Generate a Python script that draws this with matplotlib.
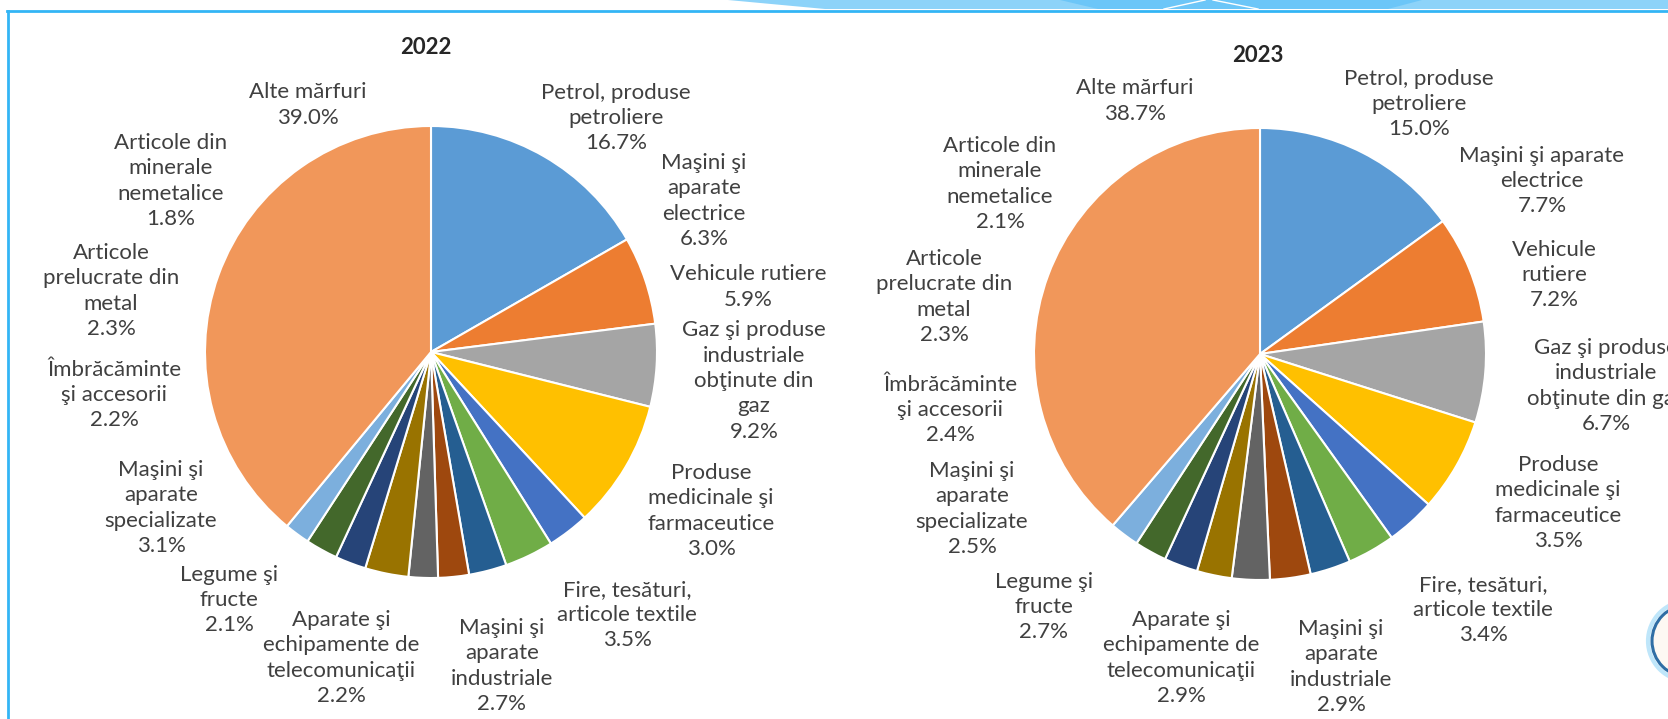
import matplotlib
matplotlib.use("Agg")
import matplotlib.pyplot as plt
from matplotlib.patches import Polygon, Circle

plt.rcParams['font.family'] = ['Lato', 'DejaVu Sans']

# --- data ---
names_2022 = ["Petrol, produse\npetroliere", "Maşini şi\naparate\nelectrice",
              "Vehicule rutiere", "Gaz şi produse\nindustriale\nobţinute din\ngaz",
              "Produse\nmedicinale şi\nfarmaceutice", "Fire, tesături,\narticole textile",
              "Maşini şi\naparate\nindustriale", "Aparate şi\nechipamente de\ntelecomunicaţii",
              "Legume şi\nfructe", "Maşini şi\naparate\nspecializate",
              "Îmbrăcăminte\nşi accesorii", "Articole\nprelucrate din\nmetal",
              "Articole din\nminerale\nnemetalice", "Alte mărfuri"]
names_2023 = ["Petrol, produse\npetroliere", "Maşini şi aparate\nelectrice",
              "Vehicule\nrutiere", "Gaz şi produse\nindustriale\nobţinute din gaz",
              "Produse\nmedicinale şi\nfarmaceutice", "Fire, tesături,\narticole textile",
              "Maşini şi\naparate\nindustriale", "Aparate şi\nechipamente de\ntelecomunicaţii",
              "Legume şi\nfructe", "Maşini şi\naparate\nspecializate",
              "Îmbrăcăminte\nşi accesorii", "Articole\nprelucrate din\nmetal",
              "Articole din\nminerale\nnemetalice", "Alte mărfuri"]
values_2022 = [16.7, 6.3, 5.9, 9.2, 3.0, 3.5, 2.7, 2.2, 2.1, 3.1, 2.2, 2.3, 1.8, 39.0]
values_2023 = [15.0, 7.7, 7.2, 6.7, 3.5, 3.4, 2.9, 2.9, 2.7, 2.5, 2.4, 2.3, 2.1, 38.7]

colors = ['#5B9BD5', '#ED7D31', '#A5A5A5', '#FFC000', '#4472C4', '#70AD47',
          '#255E91', '#9E480E', '#636363', '#997300', '#264478', '#43682B',
          '#7CAFDD', '#F1975A']

# --- layout (pixels, y from top) ---
W, H = 1668, 719
pos_2022 = [(616, 118), (704, 201), (748, 287), (754, 381), (711, 511), (627, 615),
            (502, 666), (341, 658), (229, 600), (161, 508), (114, 395), (111, 291),
            (171, 181), (308, 105)]
pos_2023 = [(1419, 104), (1542, 181), (1554, 275), (1606, 386), (1558, 503), (1483, 610),
            (1341, 667), (1181, 658), (1044, 607), (972, 509), (950, 410), (944, 297),
            (1000, 184), (1135, 101)]

fig = plt.figure(figsize=(W / 100, H / 100), dpi=100)
ax = fig.add_axes([0, 0, 1, 1])

charts = [("2022", values_2022, names_2022, pos_2022, (431, 352), (426, 48)),
          ("2023", values_2023, names_2023, pos_2023, (1260, 354), (1258, 55))]

for title, vals, names, pos, c, tpos in charts:
    ax.pie(vals, colors=colors, startangle=90, counterclock=False,
           center=(c[0], H - c[1]), radius=226,
           wedgeprops=dict(edgecolor='white', linewidth=1.5))
    for n, v, (x, y) in zip(names, vals, pos):
        ax.text(x, H - y, f"{n}\n{v:.1f}%", ha='center', va='center',
                multialignment='center', fontsize=16, color='#404040',
                linespacing=1.33)
    ax.text(tpos[0], H - tpos[1], title, ha='center', va='center',
            fontsize=16, fontweight='bold', color='#262626')

# slide decoration
ax.add_patch(Polygon([(728, H), (W, H), (W, H - 9), (825, H - 9)],
                     closed=True, color='#8DD3F9', lw=0))
ax.add_patch(Polygon([(1060, H), (1422, H), (1388, H - 9), (1098, H - 9)],
                     closed=True, color='#6CC6F8', lw=0))
ax.plot([1164, 1205], [H - 9, H], color='white', lw=1)
ax.plot([1213, 1258], [H, H - 9], color='white', lw=1)
ax.plot([7, W], [H - 10.5, H - 10.5], color='#33B5F5', lw=2)
ax.plot([8, 8], [H - 10.5, 0], color='#33B5F5', lw=2)
ax.add_patch(Circle((1688, H - 641), 40, facecolor='none', edgecolor='#BFE6FA', lw=3))
ax.add_patch(Circle((1688, H - 641), 36, facecolor='#FDF8F3', edgecolor='#2F6EA5', lw=2.2))

ax.set_xlim(0, W)
ax.set_ylim(0, H)
ax.set_aspect('auto')
ax.axis('off')

fig.savefig('out.png', dpi=100, facecolor='white')
